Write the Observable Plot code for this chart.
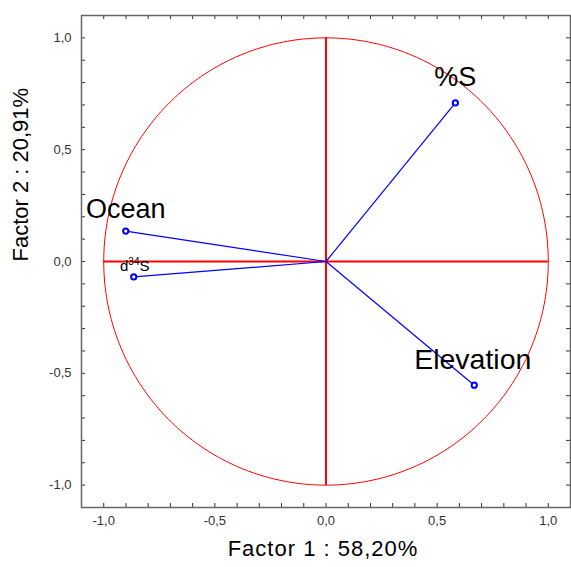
<!DOCTYPE html>
<html>
<head>
<meta charset="utf-8">
<script src="https://cdn.jsdelivr.net/npm/d3@7"></script>
<script src="https://cdn.jsdelivr.net/npm/@observablehq/plot@0.6"></script>
<style>
  html, body { margin: 0; padding: 0; background: #fff; }
  svg { display: block; }
</style>
</head>
<body>
<div id="chart"></div>
<script>
// Variable names and loadings (Factor 1, Factor 2)
const variables = ["%S", "Ocean", "d34S", "Elevation"];
const factor1 = [0.582, -0.901, -0.865, 0.667];
const factor2 = [0.709, 0.136, -0.069, -0.553];

const xTitle = "Factor 1 : 58,20%";
const yTitle = "Factor 2 : 20,91%";
const majorTicks = [-1.0, -0.5, 0.0, 0.5, 1.0];
const minorTicks = d3.range(-10, 11).map(i => i / 10);

const data = variables.map((name, i) => ({name, x: factor1[i], y: factor2[i]}));
const byName = Object.fromEntries(data.map(d => [d.name, d]));

// unit circle (reference geometry)
const circle = d3.range(0, 361).map(a => ({x: Math.cos(a * Math.PI / 180), y: Math.sin(a * Math.PI / 180)}));

const fmt = d => d.toFixed(1).replace(".", ",");
const FONT = "'Liberation Sans', Arial, sans-serif";
const W = 571, H = 567, mL = 81, mR = 1, mT = 15, mB = 60;
const fw = W - mL - mR, fh = H - mT - mB;

const chart = Plot.plot({
  width: W, height: H,
  marginLeft: mL, marginRight: mR, marginTop: mT, marginBottom: mB,
  style: {fontFamily: FONT, background: "#fff"},
  x: {domain: [-1.1, 1.1], axis: null},
  y: {domain: [-1.1, 1.1], axis: null},
  marks: [
    Plot.line(circle, {x: "x", y: "y", stroke: "#ff0000", strokeWidth: 1}),
    Plot.ruleY([0], {x1: -1, x2: 1, stroke: "#ff0000", strokeWidth: 2}),
    Plot.ruleX([0], {y1: -1, y2: 1, stroke: "#ff0000", strokeWidth: 2}),
    // inside ticks on all four sides
    Plot.ruleX(minorTicks, {x: d => d, insetTop: fh - 4, stroke: "#333", strokeWidth: 1}),
    Plot.ruleX(minorTicks, {x: d => d, insetBottom: fh - 4, stroke: "#333", strokeWidth: 1}),
    Plot.ruleY(minorTicks, {y: d => d, insetRight: fw - 4, stroke: "#333", strokeWidth: 1}),
    Plot.ruleY(minorTicks, {y: d => d, insetLeft: fw - 4, stroke: "#333", strokeWidth: 1}),
    Plot.frame({stroke: "#666", strokeWidth: 1.5}),
    Plot.axisX(majorTicks, {anchor: "bottom", tickSize: 0, tickPadding: 8, tickFormat: fmt, fontSize: 13, fill: "#333", label: null}),
    Plot.axisY(majorTicks, {anchor: "left", tickSize: 0, tickPadding: 10, tickFormat: fmt, fontSize: 13, fill: "#333", label: null}),
    Plot.link(data, {x1: () => 0, y1: () => 0, x2: "x", y2: "y", stroke: "#0000ff", strokeWidth: 1.2}),
    Plot.dot(data, {x: "x", y: "y", r: 2.6, stroke: "#0000ff", strokeWidth: 2, fill: "#fff"}),
    Plot.text([byName["%S"]], {x: "x", y: "y", text: "name", dy: -26, fontSize: 27, fill: "#000"}),
    Plot.text([byName["Ocean"]], {x: "x", y: "y", text: "name", dy: -22, fontSize: 27, fill: "#000"}),
    Plot.text([byName["Elevation"]], {x: "x", y: "y", text: "name", dx: -1.5, dy: -25, fontSize: 28.5, fill: "#000"}),
    Plot.text([byName["d34S"]], {x: "x", y: "y", text: "name", dx: 1, dy: -10.5, fontSize: 15, fill: "#000"}),
    Plot.text([xTitle], {frameAnchor: "bottom", dx: -3, dy: 48, fontSize: 22, fill: "#000"}),
    Plot.text([yTitle], {frameAnchor: "left", dx: -61, rotate: -90, fontSize: 22, fill: "#000"})
  ]
});

// superscript in d34S
d3.select(chart).selectAll("text").each(function () {
  if (this.textContent === "d34S") {
    const t = d3.select(this);
    t.text("");
    t.append("tspan").text("d");
    t.append("tspan").attr("dy", -6).attr("font-size", 10).text("34");
    t.append("tspan").attr("dy", 6).text("S");
  }
});
d3.select(chart).selectAll("text").filter(function () { return this.textContent === xTitle; }).attr("letter-spacing", 1);

document.getElementById("chart").appendChild(chart);
</script>
</body>
</html>
